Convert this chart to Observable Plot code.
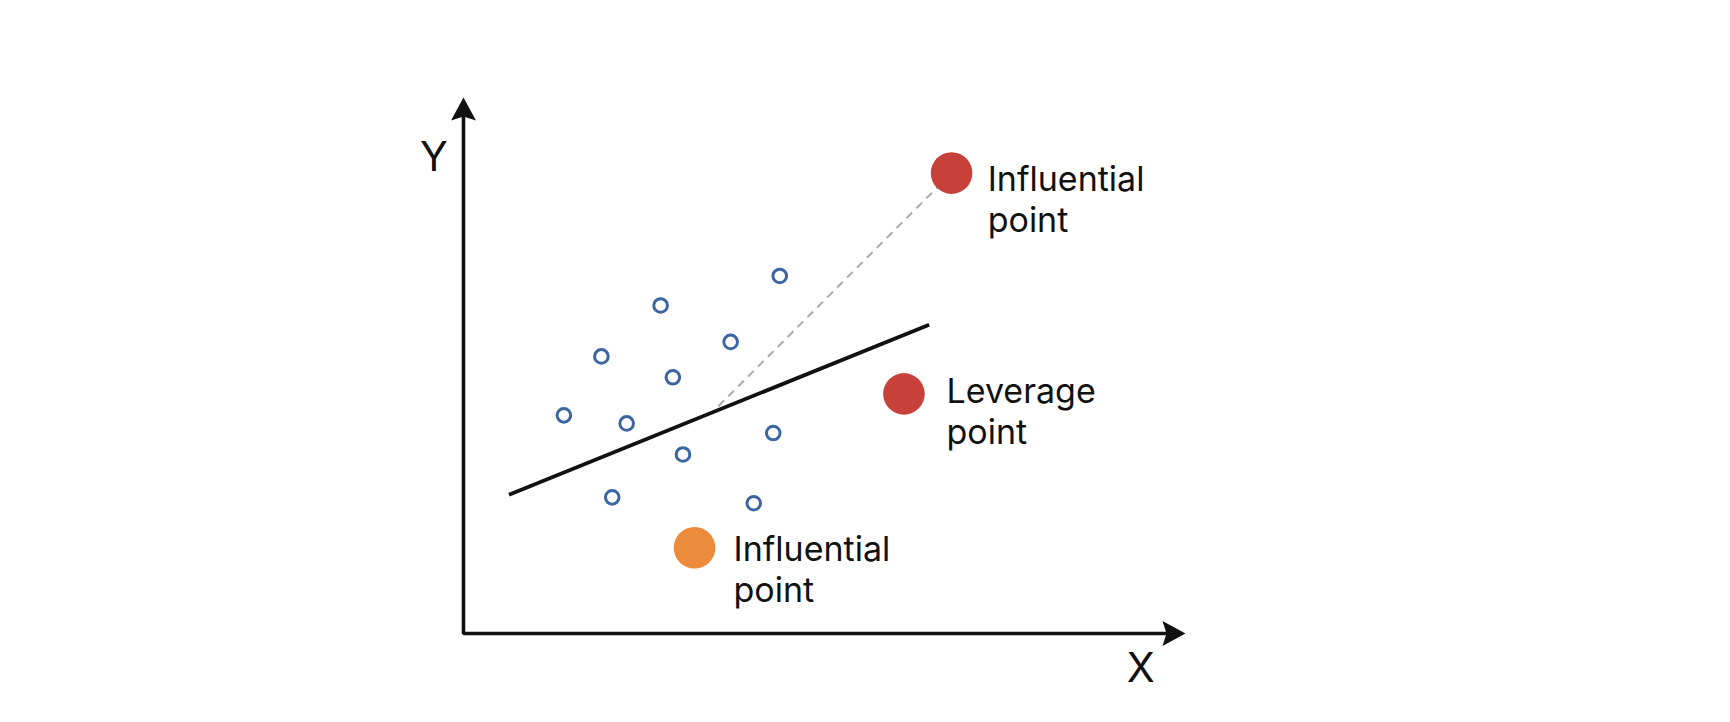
<!DOCTYPE html>
<html>
<head>
<meta charset="utf-8">
<script src="https://cdn.jsdelivr.net/npm/d3@7"></script>
<script src="https://cdn.jsdelivr.net/npm/@observablehq/plot@0.6"></script>
<style>
  html, body { margin: 0; padding: 0; background: #ffffff; }
  #chart { width: 1730px; height: 722px; }
</style>
</head>
<body>
<div id="chart"></div>
<script>
// ---- Data (in abstract data units, X and Y both 0..10) ----
const sampleX = [4.38, 2.73, 3.70, 1.91, 2.90, 1.39, 2.26, 4.29, 3.04, 2.06, 4.02];
const sampleY = [6.67, 6.12, 5.44, 5.17, 4.78, 4.07, 3.92, 3.74, 3.34, 2.54, 2.43];

const fitX = [0.63, 6.45];
const fitY = [2.59, 5.76];

const specialKind = ["influential-high", "leverage", "influential-low"];
const specialX = [6.76, 6.10, 3.20];
const specialY = [8.59, 4.47, 1.60];
const specialLabel = ["Influential\npoint", "Leverage\npoint", "Influential\npoint"];
const labelX = [7.26, 6.69, 3.74];
const labelY = [7.49, 3.54, 0.59];

const residualX = [3.53, 6.76];
const residualY = [4.24, 8.59];

const axisMin = 0;
const axisMax = 10;
const axisNames = ["X", "Y"];
const axisNameX = [9.38, -0.41];
const axisNameY = [-0.90, 8.63];

// ---- Tables built from the arrays ----
const samples = sampleX.map((x, i) => ({x, y: sampleY[i]}));
const fit = fitX.map((x, i) => ({x, y: fitY[i]}));
const residual = residualX.map((x, i) => ({x, y: residualY[i]}));
const specials = specialKind.map((k, i) => ({kind: k, x: specialX[i], y: specialY[i], label: specialLabel[i], lx: labelX[i], ly: labelY[i]}));
const axisNameRows = axisNames.map((n, i) => ({name: n, x: axisNameX[i], y: axisNameY[i]}));
const axisPath = [
  {x: axisMin, y: axisMax - 0.3},
  {x: axisMin, y: axisMin},
  {x: axisMax - 0.2, y: axisMin}
];
const arrowTips = [
  {x: axisMin, y: axisMax},
  {x: axisMax, y: axisMin}
];

// Filled arrowhead with slight notch, tip at origin, pointing up
const arrowHead = {
  draw(context) {
    context.moveTo(0, 0);
    context.lineTo(12.5, 23);
    context.lineTo(0, 19);
    context.lineTo(-12.5, 23);
    context.closePath();
  }
};

const font = "Inter, 'Noto Sans', sans-serif";

const chart = Plot.plot({
  width: 1730,
  height: 722,
  marginLeft: 463,
  marginRight: 545,
  marginTop: 97,
  marginBottom: 89,
  style: {background: "#ffffff", overflow: "visible", fontFamily: font},
  x: {domain: [axisMin, axisMax], axis: null},
  y: {domain: [axisMin, axisMax], axis: null},
  color: {type: "ordinal", domain: specialKind, range: ["#c8403a", "#c8403a", "#ec8b3b"]},
  marks: [
    // axes
    Plot.line(axisPath, {x: "x", y: "y", stroke: "#111111", strokeWidth: 3.6, strokeLinejoin: "miter", strokeLinecap: "square"}),
    Plot.dot(arrowTips.slice(0, 1), {x: "x", y: "y", symbol: arrowHead, fill: "#111111", stroke: "none", rotate: 0}),
    Plot.dot(arrowTips.slice(1), {x: "x", y: "y", symbol: arrowHead, fill: "#111111", stroke: "none", rotate: 90}),
    Plot.text(axisNameRows, {x: "x", y: "y", text: "name", fontSize: 41, fontWeight: 400, textAnchor: "middle", lineAnchor: "bottom", fill: "#111111", fontFamily: font}),
    // dashed residual
    Plot.line(residual, {x: "x", y: "y", stroke: "#aaaaaa", strokeWidth: 2, strokeDasharray: "8,6", strokeLinecap: "butt"}),
    // regression line
    Plot.line(fit, {x: "x", y: "y", stroke: "#111111", strokeWidth: 3.8, strokeLinecap: "butt"}),
    // sample points
    Plot.dot(samples, {x: "x", y: "y", r: 6.8, stroke: "#3d66a0", strokeWidth: 3, fill: "#ffffff"}),
    // special points
    Plot.dot(specials, {x: "x", y: "y", r: 20.8, fill: "kind", stroke: "none"}),
    Plot.text(specials, {x: "lx", y: "ly", text: "label", fontSize: 34, lineHeight: 1.2, textAnchor: "start", lineAnchor: "bottom", fill: "#111111", fontFamily: font})
  ]
});

document.getElementById("chart").appendChild(chart);
</script>
</body>
</html>
